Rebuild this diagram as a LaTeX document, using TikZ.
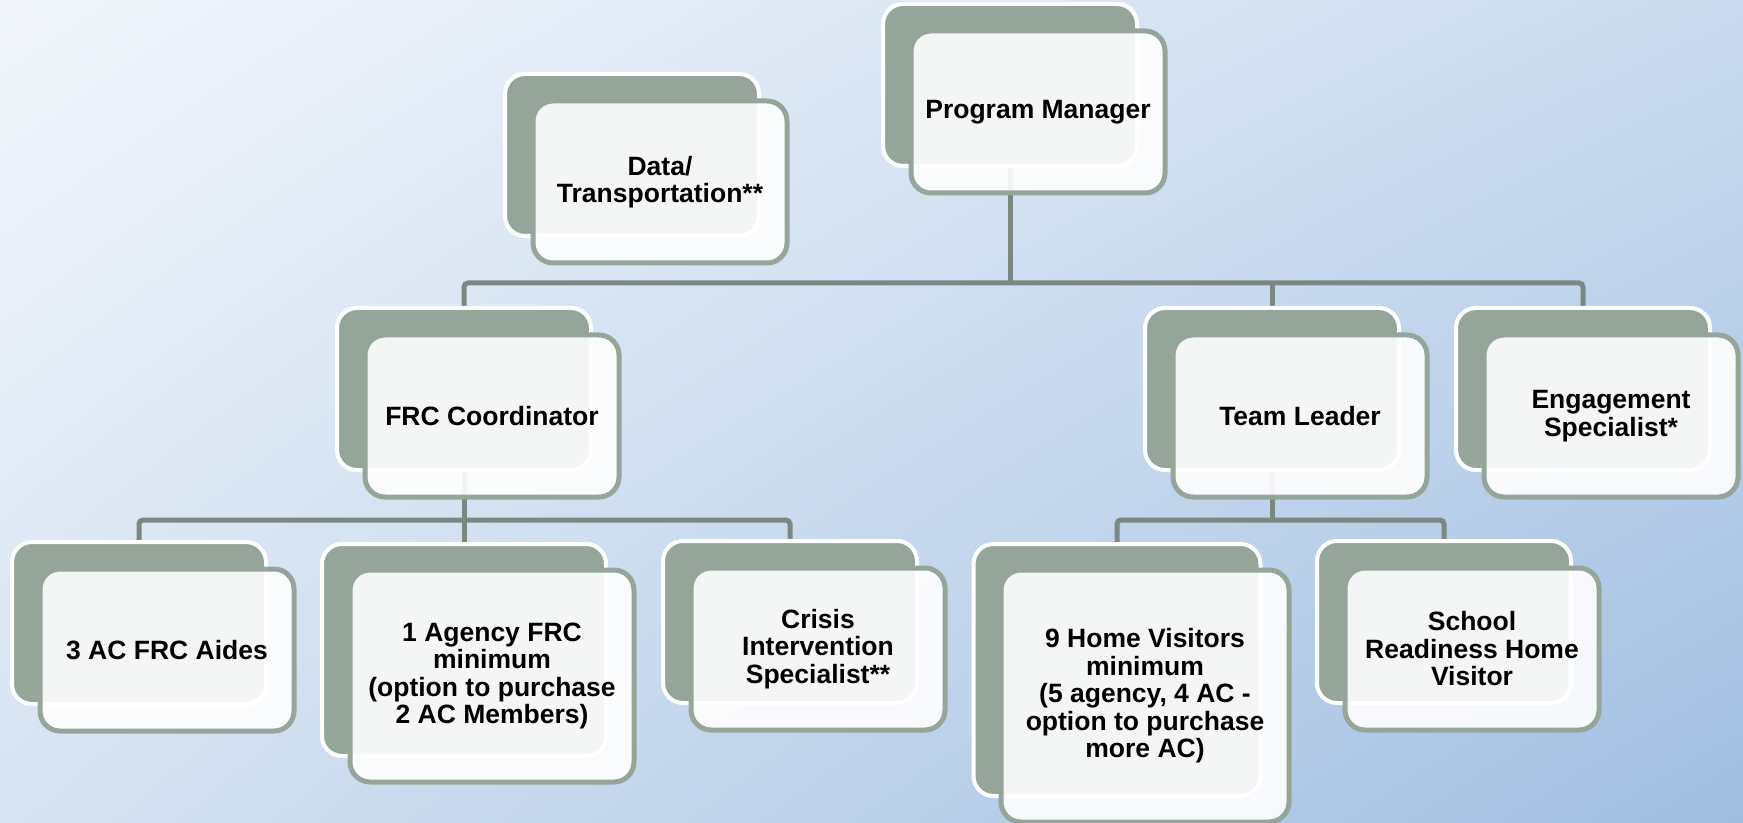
\documentclass[tikz,border=0pt]{standalone}
\usepackage{fontspec}
\setmainfont{Liberation Sans}
\usetikzlibrary{positioning,backgrounds,shadings}

\definecolor{boxgray}{HTML}{95A59A}
\definecolor{linegray}{HTML}{7B8881}
\definecolor{bgtl}{HTML}{F2F6FC}
\definecolor{bgtr}{HTML}{CADBEF}
\definecolor{bgbl}{HTML}{D6E3F2}
\definecolor{bgbr}{HTML}{A0BEE1}

\begin{document}
\begin{tikzpicture}[x=0.5pt, y=-0.5pt,
    backbox/.style={draw=white, line width=2pt, fill=boxgray, rounded corners=10pt,
        minimum width=127pt, minimum height=81pt, inner sep=0pt},
    frontbox/.style={draw=boxgray, line width=2.5pt, fill=white, fill opacity=0.9,
        text opacity=1, rounded corners=10pt, minimum width=127pt, minimum height=81pt,
        inner sep=0pt, align=center, font=\fontsize{13.25}{13.75}\selectfont\bfseries},
    link/.style={draw=linegray, line width=2.5pt, rounded corners=2pt}]
    \useasboundingbox (0,0) rectangle (1743,823);

    % top row
    \node[backbox] (pm-b) at (1010,85) {};
    \node[frontbox] (pm) at ([shift={(28,27)}]pm-b.center) {Program Manager};
    \node[backbox] (dt-b) at (632,155) {};
    \node[frontbox] (dt) at ([shift={(28,27)}]dt-b.center) {Data/\\Transportation**};

    % second row
    \node[backbox] (frc-b) at (464,389) {};
    \node[frontbox] (frc) at ([shift={(28,27)}]frc-b.center) {FRC Coordinator};
    \node[backbox] (tl-b) at (1272,389) {};
    \node[frontbox] (tl) at ([shift={(28,27)}]tl-b.center) {Team Leader};
    \node[backbox] (es-b) at (1583,389) {};
    \node[frontbox] (es) at ([shift={(28,27)}]es-b.center) {Engagement\\Specialist*};

    % third row
    \node[backbox] (aides-b) at (139,623) {};
    \node[frontbox] (aides) at ([shift={(28,27)}]aides-b.center) {3 AC FRC Aides};
    \node[backbox, minimum width=142pt, minimum height=106pt] (agency-b) at (464,650) {};
    \node[frontbox, minimum width=142pt, minimum height=106pt] (agency) at ([shift={(28,26)}]agency-b.center)
        {1 Agency FRC\\minimum\\(option to purchase\\2 AC Members)};
    \node[backbox] (crisis-b) at (790,622) {};
    \node[frontbox] (crisis) at ([shift={(28,27)}]crisis-b.center) {Crisis\\Intervention\\Specialist**};
    \node[backbox, minimum width=143.5pt, minimum height=126pt] (hv-b) at (1117,670) {};
    \node[frontbox, minimum width=144pt, minimum height=126pt] (hv) at ([shift={(28,26)}]hv-b.center)
        {9 Home Visitors\\minimum\\(5 agency, 4 AC -\\option to purchase\\more AC)};
    \node[backbox] (sr-b) at (1444,622) {};
    \node[frontbox] (sr) at ([shift={(28,27)}]sr-b.center) {School\\Readiness Home\\Visitor};

    \begin{scope}[on background layer]
        \shade[upper left=bgtl, upper right=bgtr, lower left=bgbl, lower right=bgbr]
            (0,0) rectangle (1743,823);
        \coordinate (bus) at (1010,283);
        \coordinate (frcbus) at (464,520);
        \coordinate (tlbus) at (1272,520);
        \draw[link] (pm-b.center) -- (pm-b.center |- bus);
        \draw[link] (frc-b.north) |- (bus) -| (es-b.north);
        \draw[link] (tl-b.north) -- (tl-b.north |- bus);
        \draw[link] (frc-b.center) -- (agency-b.north);
        \draw[link] (aides-b.north) |- (frcbus) -| (crisis-b.north);
        \draw[link] (tl-b.center) -- (tl-b.center |- tlbus);
        \draw[link] (hv-b.north) |- (tlbus) -| (sr-b.north);
    \end{scope}
\end{tikzpicture}
\end{document}
